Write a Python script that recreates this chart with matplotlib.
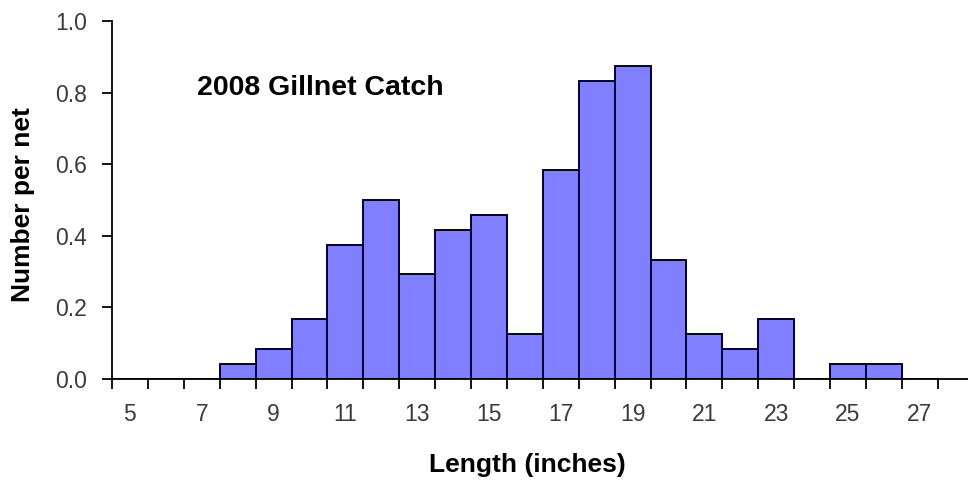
import matplotlib
matplotlib.use("Agg")
import matplotlib.pyplot as plt
from matplotlib.ticker import FixedLocator, NullFormatter, FixedFormatter

plt.rcParams['font.family'] = ['Liberation Sans', 'DejaVu Sans']

# Gillnet catch per net by length class (inches)
lengths = list(range(5, 28))
number_per_net = [0.0, 0.0, 0.0, 0.042, 0.083, 0.167, 0.375, 0.5, 0.292, 0.417,
                  0.458, 0.125, 0.583, 0.833, 0.875, 0.333, 0.125, 0.083, 0.167,
                  0.0, 0.042, 0.042, 0.0]
x_tick_labels = [str(v) for v in range(5, 28, 2)]
y_ticks = [0.0, 0.2, 0.4, 0.6, 0.8, 1.0]

W, H = 968, 482
fig = plt.figure(figsize=(W / 100, H / 100), dpi=100)
ax = fig.add_axes([112 / W, 103 / H, 856 / W, 358 / H])

ax.bar(lengths, number_per_net, width=1.0, color='#7f7fff',
       edgecolor='#000033', linewidth=1.4, zorder=2)

ax.set_xlim(4.5, 4.5 + 856 / 35.9)
ax.set_ylim(0, 1.0)

# Boundary ticks between length classes, labels on odd lengths
bounds = [v - 0.5 for v in range(5, 29)]
ax.xaxis.set_major_locator(FixedLocator(bounds))
ax.xaxis.set_major_formatter(NullFormatter())
ax.xaxis.set_minor_locator(FixedLocator(list(range(5, 28, 2))))
ax.xaxis.set_minor_formatter(FixedFormatter(x_tick_labels))
ax.tick_params(axis='x', which='major', direction='out', length=7, width=1.3,
               color='black')
ax.tick_params(axis='x', which='minor', length=0, pad=17, labelsize=16.5,
               labelcolor='#3a3a3a')

ax.set_yticks(y_ticks)
ax.set_yticklabels([f"{v:.1f}" for v in y_ticks])
ax.tick_params(axis='y', direction='out', length=7, width=1.3, pad=11,
               labelsize=16.5, labelcolor='#3a3a3a')

for side in ('top', 'right'):
    ax.spines[side].set_visible(False)
for side in ('left', 'bottom'):
    ax.spines[side].set_linewidth(1.3)
    ax.spines[side].set_color('black')

ax.set_xlabel('Length (inches)', fontsize=19, fontweight='bold', va='center')
ax.xaxis.set_label_coords(527 / W, 1 - 465 / H, transform=fig.transFigure)
ax.set_ylabel('Number per net', fontsize=19, fontweight='bold', va='center')
ax.yaxis.set_label_coords(23 / W, 1 - 205 / H, transform=fig.transFigure)

fig.text(197 / W, 1 - 88 / H, '2008 Gillnet Catch', fontsize=20.5,
         fontweight='bold', va='center', ha='left')

fig.savefig('out.png', dpi=100)
